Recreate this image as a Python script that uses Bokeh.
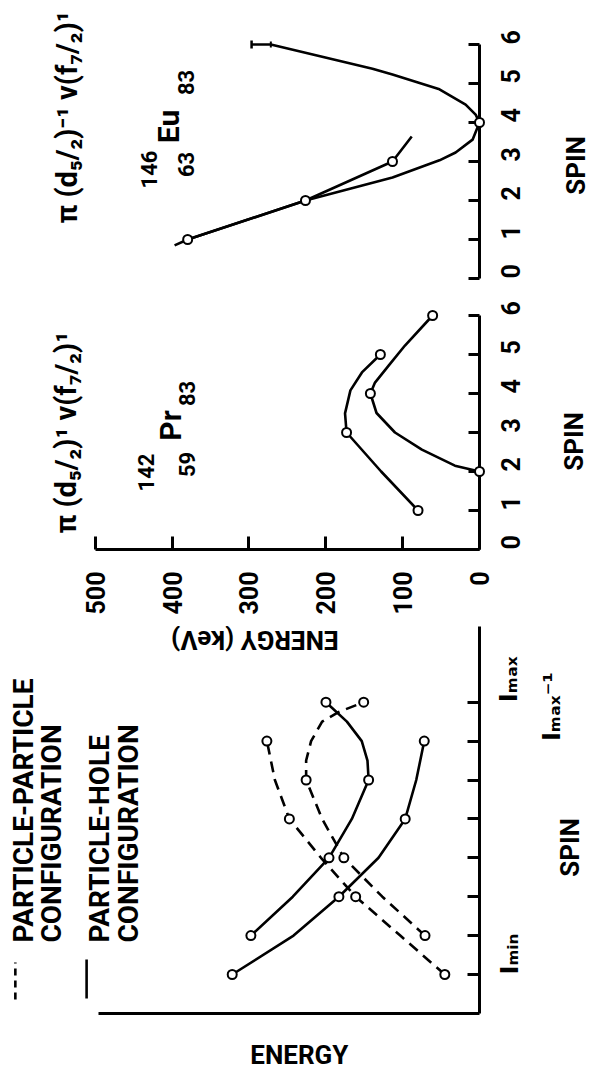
import math
from bokeh.plotting import figure
from bokeh.models import Range1d, LinearAxis, FixedTicker
from bokeh.layouts import column
from bokeh.embed import file_html
from bokeh.resources import INLINE
from bokeh.core.properties import value

# ---------------- data ----------------
# 146Eu : spin vs energy (keV)
eu_exp_spin = [1, 2, 3, 3.64]
eu_exp_energy = [379, 226, 113, 88]
eu_calc_spin = [0.85, 1.0, 2.0, 2.59, 3.03, 3.23, 3.56, 4.0, 4.2, 4.46, 4.85, 5.23, 5.38, 6.0]
eu_calc_energy = [396, 379, 226, 113, 52, 31, 9, 0, 5, 18, 52, 113, 139, 271]
eu_point_spin = [1, 2, 3, 4]
eu_point_energy = [379, 226, 113, 0]
eu_error_spin = [6]
eu_error_low = [271]
eu_error_high = [296]

# 142Pr : spin vs energy (keV)
pr_odd_spin = [1, 2, 3, 3.49, 4.08, 4.54, 5]
pr_odd_energy = [80, 128, 173, 175, 168, 153, 129]
pr_even_spin = [2, 2.15, 2.56, 3, 3.5, 4, 4.28, 4.72, 5.23, 6]
pr_even_energy = [0, 32, 75, 110, 134, 142, 136, 118, 97, 61]
pr_point_spin = [1, 2, 3, 4, 5, 6]
pr_point_energy = [80, 0, 173, 142, 129, 61]

# schematic : spin steps above I_min vs energy (arbitrary units)
ph_even_spin = [0, 1, 2, 3, 4, 5, 6]
ph_even_energy = [64.9, 48.8, 36.9, 26.5, 19.5, 16.6, 14.5]
ph_odd_spin = [1, 2, 3, 4, 5, 5.5, 6, 6.5, 7]
ph_odd_energy = [60.0, 49.0, 39.5, 33.5, 29.1, 29.4, 30.9, 34.8, 40.3]
pp_even_spin = [0, 1, 2, 3, 4, 5, 6]
pp_even_energy = [9.1, 20.8, 32.5, 41.6, 49.9, 53.7, 55.8]
pp_odd_spin = [1, 2, 3, 4, 5, 5.5, 6, 6.5, 6.75, 7]
pp_odd_energy = [14.3, 25.5, 35.6, 41.3, 45.5, 45.5, 44.2, 41.3, 36.9, 30.4]
ph_point_spin = [0, 2, 4, 6, 1, 3, 5, 7]
ph_point_energy = [64.9, 36.9, 19.5, 14.5, 60.0, 39.5, 29.1, 40.3]
pp_point_spin = [0, 2, 4, 6, 1, 3, 5, 7]
pp_point_energy = [9.1, 32.5, 49.9, 55.8, 14.3, 35.6, 45.5, 30.4]

# ticks and texts
energy_ticks = [0, 100, 200, 300, 400, 500]
spin_ticks = [0, 1, 2, 3, 4, 5, 6]
spin_tick_labels = ["0", "1", "2", "3", "4", "5", "6"]
sch_ticks = [0, 1, 2, 3, 4, 5, 6, 7]
sch_tick_labels = ["I\u2098\u1d62\u2099", "", "", "", "", "", "", "I\u2098\u2090\u2093"]
sch_outer_ticks = [6]
sch_outer_labels = ["I\u2098\u2090\u2093\u207b\u00b9"]
eu_header = "\u03c0 (d\u2085/\u2082)\u207b\u00b9 \u03bd(f\u2087/\u2082)\u00b9"
pr_header = "\u03c0 (d\u2085/\u2082)\u00b9  \u03bd(f\u2087/\u2082)\u00b9"
legend_texts = ["PARTICLE-PARTICLE", "CONFIGURATION", "PARTICLE-HOLE", "CONFIGURATION"]
spin_title = "SPIN"
energy_title = "ENERGY"
energy_kev_title = "ENERGY (keV)"

# ---------------- layout (page pixels) ----------------
W = 592
FONT = "Roboto"
A_TOP, A_BOT, A_AXIS_X, A_SPIN0 = 8, 300, 487, 286
B_TOP, B_FRAME_BOT, B_BOT, B_AXIS_X, B_SPIN0 = 300, 557, 634, 488, 557
C_TOP, C_FRAME_BOT, C_BOT, C_AXIS_X, C_SPIN0 = 634, 1021, 1081, 492, 982
PX_KEV, PX_SPIN = 0.77, 39.0
PX_CE, PX_CS = 3.85, 38.9
SPIN_X = 583


def base_fig(top, frame_bot, bot, axis_x, spin0, px_e, px_s):
    p = figure(width=W, height=bot - top, output_backend="svg", toolbar_location=None,
               title_location=None,
               x_range=Range1d((axis_x - 8) / px_e, 0),
               y_range=Range1d((spin0 - frame_bot) / px_s, (spin0 - top) / px_s),
               x_axis_location=None, y_axis_location=None,
               min_border=0, min_border_left=0, min_border_top=0,
               min_border_right=8 + W - axis_x, min_border_bottom=bot - frame_bot)
    p.grid.visible = False
    p.outline_line_color = None
    p.background_fill_color = "white"
    p.border_fill_color = "white"
    return p


def style_axis(ax, tick_in, size="25px"):
    ax.axis_line_width = 3
    ax.axis_line_color = "black"
    ax.major_tick_line_width = 3
    ax.major_tick_line_color = "black"
    ax.major_tick_in = tick_in
    ax.major_tick_out = 0
    ax.minor_tick_line_color = None
    ax.major_label_text_font = FONT
    ax.major_label_text_font_size = size
    ax.major_label_text_font_style = "bold"
    ax.major_label_text_color = "black"
    ax.major_label_orientation = math.pi / 2


def rot_text(p, xs, ys, texts, size, angle=math.pi / 2, align="left", baseline="alphabetic",
             font=FONT, style="bold"):
    p.text(x=xs, y=ys, text=texts, angle=angle, text_font=value(font), text_font_size=size,
           text_font_style=style, text_align=align, text_baseline=baseline, text_color="black",
           level="overlay")


LINE_W = 2.6
CIRCLE = dict(marker="circle", size=9, fill_color="white", line_color="black", line_width=2, level="overlay")

# ---------------- panel A : 146Eu ----------------
pa = base_fig(A_TOP, A_BOT, A_BOT, A_AXIS_X, A_SPIN0, PX_KEV, PX_SPIN)
ea = lambda px: (A_AXIS_X - px) / PX_KEV
sa = lambda py: (A_SPIN0 - py) / PX_SPIN
pa.line(eu_calc_energy, eu_calc_spin, line_width=LINE_W, line_color="black")
pa.line(eu_exp_energy, eu_exp_spin, line_width=LINE_W, line_color="black")
pa.segment(x0=eu_error_low, y0=eu_error_spin, x1=eu_error_high, y1=eu_error_spin,
           line_width=2.5, line_color="black")
pa.scatter(eu_error_high, eu_error_spin, marker="dash", angle=math.pi / 2, size=8,
           line_width=2.5, line_color="black")
pa.scatter(eu_error_low, eu_error_spin, marker="dash", angle=math.pi / 2, size=6,
           line_width=2, line_color="black")
pa.scatter(eu_point_energy, eu_point_spin, **CIRCLE)
ax_a = LinearAxis(bounds=(0, 6), ticker=FixedTicker(ticks=spin_ticks),
                  major_label_overrides={t: l for t, l in zip(spin_ticks, spin_tick_labels)})
style_axis(ax_a, 11)
ax_a.major_label_standoff = 31
pa.add_layout(ax_a, "right")
rot_text(pa, [ea(74)], [sa(231)], [eu_header], "29px")
rot_text(pa, [ea(156), ea(193), ea(176), ea(193)], [sa(177), sa(172), sa(134), sa(90)],
         ["146", "63", "Eu", "83"], ["22px", "22px", "30px", "22px"], align="center", baseline="middle")
rot_text(pa, [ea(SPIN_X)], [sa(173)], [spin_title], "26px", align="center", baseline="middle")

# ---------------- panel B : 142Pr ----------------
pb = base_fig(B_TOP, B_FRAME_BOT, B_BOT, B_AXIS_X, B_SPIN0, PX_KEV, PX_SPIN)
eb = lambda px: (B_AXIS_X - px) / PX_KEV
sb = lambda py: (B_SPIN0 - py) / PX_SPIN
pb.line(pr_odd_energy, pr_odd_spin, line_width=LINE_W, line_color="black")
pb.line(pr_even_energy, pr_even_spin, line_width=LINE_W, line_color="black")
pb.scatter(pr_point_energy, pr_point_spin, **CIRCLE)
ax_b = LinearAxis(bounds=(0, 6), ticker=FixedTicker(ticks=spin_ticks),
                  major_label_overrides={t: l for t, l in zip(spin_ticks, spin_tick_labels)})
style_axis(ax_b, 11)
ax_b.major_label_standoff = 31
pb.add_layout(ax_b, "right")
ax_be = LinearAxis(bounds=(0, 500), ticker=FixedTicker(ticks=energy_ticks))
style_axis(ax_be, 13)
ax_be.major_label_standoff = 22
pb.add_layout(ax_be, "below")
rot_text(pb, [eb(74)], [sb(541)], [pr_header], "29px")
rot_text(pb, [eb(154), eb(195), eb(178), eb(195)], [sb(480), sb(472), sb(433), sb(401)],
         ["142", "59", "Pr", "83"], ["22px", "22px", "30px", "22px"], align="center", baseline="middle")
rot_text(pb, [eb(SPIN_X)], [sb(449)], [spin_title], "26px", align="center", baseline="middle")

# ---------------- panel C : schematic ----------------
pc = base_fig(C_TOP, C_FRAME_BOT, C_BOT, C_AXIS_X, C_SPIN0, PX_CE, PX_CS)
ec = lambda px: (C_AXIS_X - px) / PX_CE
sc = lambda py: (C_SPIN0 - py) / PX_CS
for e, s in ((ph_even_energy, ph_even_spin), (ph_odd_energy, ph_odd_spin)):
    pc.line(e, s, line_width=LINE_W, line_color="black")
for e, s in ((pp_even_energy, pp_even_spin), (pp_odd_energy, pp_odd_spin)):
    pc.line(e, s, line_width=LINE_W, line_color="black", line_dash="11 7")
pc.scatter(ph_point_energy, ph_point_spin, **CIRCLE)
pc.scatter(pp_point_energy, pp_point_spin, **CIRCLE)
ax_c = LinearAxis(bounds=(-1, 9), ticker=FixedTicker(ticks=sch_ticks),
                  major_label_overrides={t: l for t, l in zip(sch_ticks, sch_tick_labels)})
style_axis(ax_c, 12, "24px")
ax_c.major_label_text_font = "DejaVu Sans"
ax_c.major_label_standoff = 30
pc.add_layout(ax_c, "right")
ax_c2 = LinearAxis(bounds=(-1, 9), ticker=FixedTicker(ticks=sch_outer_ticks),
                   major_label_overrides={t: l for t, l in zip(sch_outer_ticks, sch_outer_labels)})
style_axis(ax_c2, 0, "24px")
ax_c2.axis_line_color = None
ax_c2.major_tick_line_color = None
ax_c2.major_label_text_font = "DejaVu Sans"
ax_c2.major_label_standoff = 12
pc.add_layout(ax_c2, "right")
ax_ce = LinearAxis(bounds=(0, 100), ticker=FixedTicker(ticks=[]))
style_axis(ax_ce, 0)
pc.add_layout(ax_ce, "below")
rot_text(pc, [ec(SPIN_X)], [sc(855)], [spin_title], "26px", align="center", baseline="middle")
rot_text(pc, [ec(310)], [sc(1062)], [energy_title], "26px", angle=0, align="center", baseline="middle")
# legend swatches and texts
pc.segment(x0=[ec(23)], y0=[sc(1007)], x1=[ec(23)], y1=[sc(970)], line_width=2.6,
           line_color="black", line_dash="7 5")
pc.segment(x0=[ec(95)], y0=[sc(1006)], x1=[ec(95)], y1=[sc(967)], line_width=2.6, line_color="black")
rot_text(pc, [ec(31), ec(60), ec(108), ec(137)], [sc(950)] * 4, legend_texts, "28px")
rot_text(pc, [ec(265)], [sc(647)], [energy_kev_title], "26px", angle=math.pi, align="center",
         baseline="middle")

layout = column(pa, pb, pc, spacing=0)
open("out.html", "w").write(file_html(layout, INLINE))
